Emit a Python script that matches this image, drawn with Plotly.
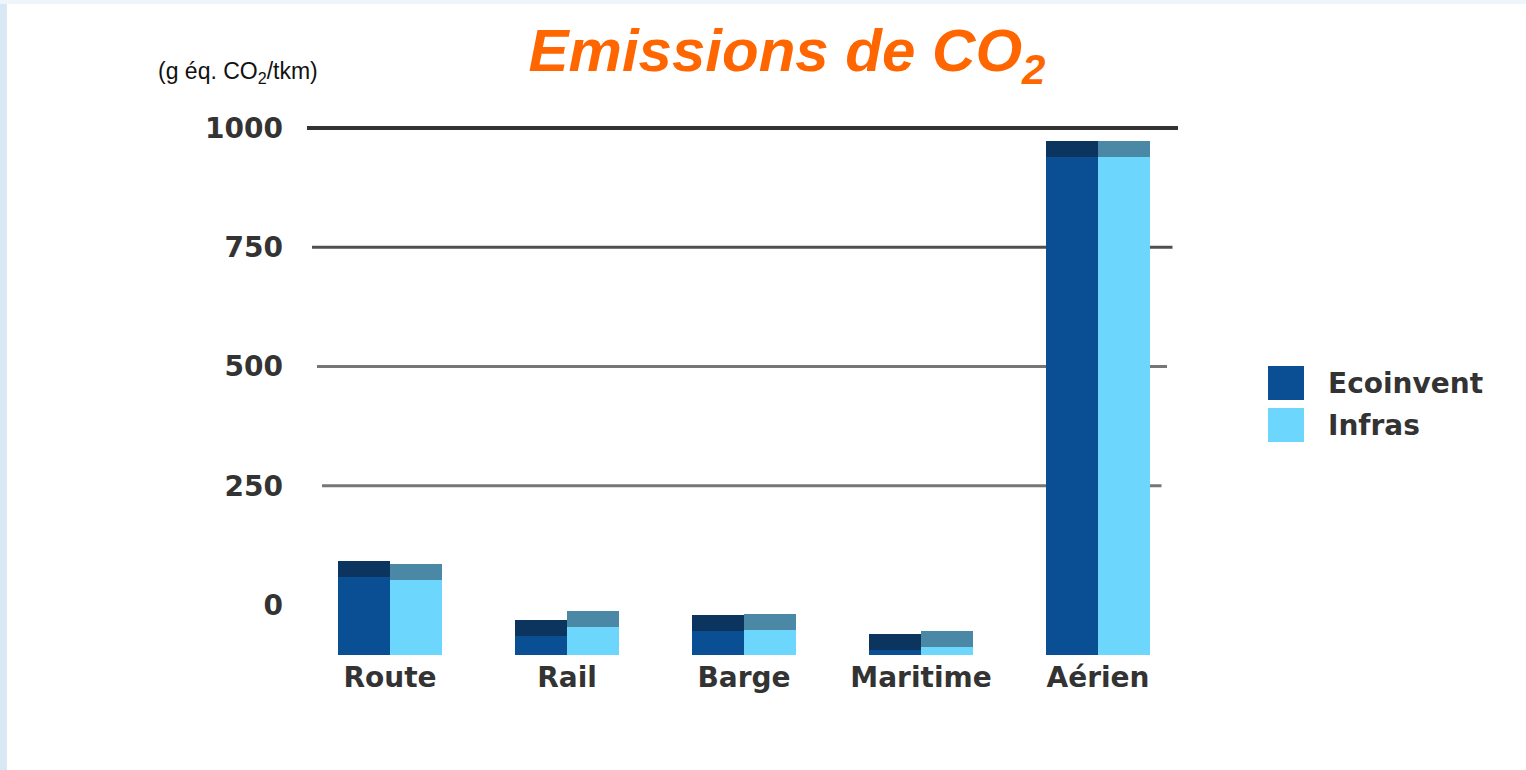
import plotly.graph_objects as go

# ---- data -------------------------------------------------------------
categories = ["Route", "Rail", "Barge", "Maritime", "Aérien"]
series_names = ["Ecoinvent", "Infras"]
ecoinvent = [157, 38, 48, 10, 1000]
infras = [150, 56, 50, 16, 1000]
y_ticks = [0, 250, 500, 750, 1000]

# ---- styling ----------------------------------------------------------
W, H = 1526, 770
ML, MR, MT, MB = 300, 346, 118, 114
PW, PH = W - ML - MR, H - MT - MB
BOTTOM_PX = H - MB

FRONT = ["#0a4f94", "#6dd6fd"]      # front faces
TOP = ["#0b355f", "#4a88a6"]        # top faces (3D look)
DEPTH = 32                          # thickness of the top face, front-axis units
SPACING = 177                       # pixels between category centres
FIRST = 390                         # pixel x of first category centre
BAR_W = 52 / SPACING

# back wall: value 0 at y=605 px, 0.477 px per unit
BACK_ZERO, BACK_SCALE = 605, 0.477
# front plane of the bars: value 0 at y=655 px, 0.498 px per unit
FRONT_ZERO, FRONT_SCALE = 655, 0.498

TXT = "#333333"
BOLD = dict(family="DejaVu Sans", size=28, color=TXT, weight="bold")


def px_x(px):
    return (px - ML) / PW


def px_y(py):
    return (H - MB - py) / PH


fig = go.Figure()

series = [ecoinvent, infras]
for s, (name, vals) in enumerate(zip(series_names, series)):
    off = (s - 0.5) * BAR_W
    xs = [i + off for i in range(len(categories))]
    fig.add_trace(go.Bar(
        x=xs, y=vals, base=0, width=BAR_W, name=name, yaxis="y2",
        marker=dict(color=FRONT[s], line=dict(width=0)),
        showlegend=False, hoverinfo="skip"))
    fig.add_trace(go.Bar(
        x=xs, y=[DEPTH] * len(vals), base=vals, width=BAR_W, yaxis="y2",
        marker=dict(color=TOP[s], line=dict(width=0)),
        showlegend=False, hoverinfo="skip"))

shapes = []
# back-wall grid lines, slightly receding to the left
grid_style = {1000: ("#333333", 4), 750: ("#505050", 3),
              500: ("#767676", 3), 250: ("#767676", 3)}
for v in y_ticks[1:]:
    col, w = grid_style[v]
    x0 = 307 + (1000 - v) * 0.02
    x1 = 1178 - (1000 - v) * 0.022
    shapes.append(dict(type="line", xref="paper", yref="y",
                       x0=px_x(x0), x1=px_x(x1), y0=v, y1=v,
                       line=dict(color=col, width=w), layer="below"))

# pale frame of the slide background
shapes.append(dict(type="rect", xref="paper", yref="paper",
                   x0=px_x(0), x1=px_x(7), y0=px_y(H), y1=px_y(0),
                   fillcolor="#d8e8f4", line=dict(width=0), layer="below"))
shapes.append(dict(type="rect", xref="paper", yref="paper",
                   x0=px_x(0), x1=px_x(W), y0=px_y(4), y1=px_y(0),
                   fillcolor="#eef5fb", line=dict(width=0), layer="below"))

# legend swatches
annotations = []
for s, name in enumerate(series_names):
    top = 366 + s * 42
    shapes.append(dict(type="rect", xref="paper", yref="paper",
                       x0=px_x(1268), x1=px_x(1304),
                       y0=px_y(top + 34), y1=px_y(top),
                       fillcolor=FRONT[s], line=dict(width=0)))
    annotations.append(dict(text=name, xref="paper", yref="paper",
                            x=px_x(1326), y=px_y(top + 17),
                            xanchor="left", yanchor="middle",
                            showarrow=False, font=BOLD))

# unit label
annotations.append(dict(text="(g éq. CO<sub>2</sub>/tkm)", xref="paper", yref="paper",
                        x=px_x(156), y=px_y(72), xanchor="left", yanchor="middle",
                        showarrow=False,
                        font=dict(family="Liberation Sans", size=23, color="#111111")))

fig.update_layout(
    width=W, height=H,
    margin=dict(l=ML, r=MR, t=MT, b=MB, pad=0),
    paper_bgcolor="white", plot_bgcolor="rgba(0,0,0,0)",
    barmode="overlay", bargap=0,
    title=dict(text="Emissions de CO<sub>2</sub>",
               x=787 / W, xref="container", xanchor="center",
               y=1 - 50 / H, yref="container", yanchor="middle",
               font=dict(family="Liberation Sans", size=60, color="#ff6600",
                         weight="bold", style="italic")),
    xaxis=dict(range=[(ML - FIRST) / SPACING, (ML + PW - FIRST) / SPACING],
               tickvals=list(range(len(categories))), ticktext=categories,
               showgrid=False, zeroline=False, showline=False, ticks="",
               tickfont=BOLD, ticklabelstandoff=2),
    yaxis=dict(range=[(BACK_ZERO - BOTTOM_PX) / BACK_SCALE,
                      (BACK_ZERO - MT) / BACK_SCALE],
               tickvals=y_ticks, ticktext=[str(v) for v in y_ticks],
               showgrid=False, zeroline=False, showline=False, ticks="",
               tickfont=BOLD, ticklabelstandoff=16),
    yaxis2=dict(overlaying="y",
                range=[(FRONT_ZERO - BOTTOM_PX) / FRONT_SCALE,
                       (FRONT_ZERO - MT) / FRONT_SCALE],
                visible=False),
    shapes=shapes, annotations=annotations,
)

fig.write_html("out.html")
